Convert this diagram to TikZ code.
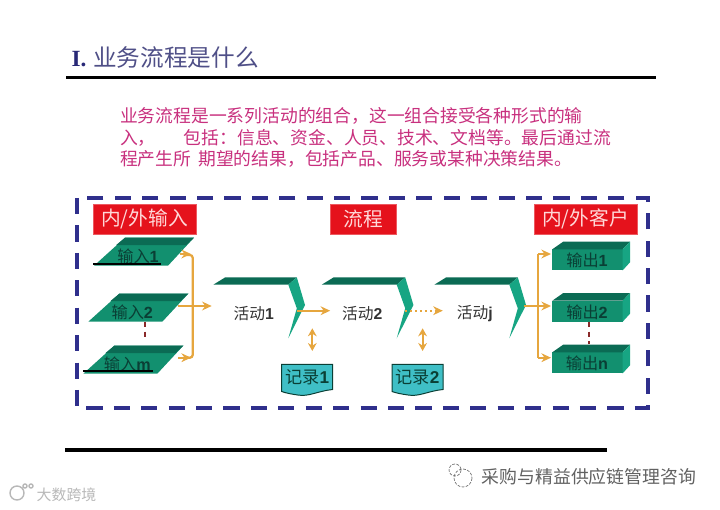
\documentclass[tikz,border=0pt]{standalone}
\usepackage{fontspec}
\setmainfont{Liberation Sans}
\newfontfamily\cjk{Noto Sans CJK SC}
\newfontfamily\titleserif{Liberation Serif}
\usetikzlibrary{arrows.meta, positioning, calc}
\definecolor{cnavy}{HTML}{2F2F8C}
\definecolor{cred}{HTML}{E5121C}
\definecolor{cpink}{HTML}{C8307E}
\definecolor{cgreen}{HTML}{12906F}
\definecolor{cdark}{HTML}{0B6B54}
\definecolor{clight}{HTML}{17A583}
\definecolor{corange}{HTML}{E6A63E}
\definecolor{cteal}{HTML}{3FBFC6}
\definecolor{cink}{HTML}{0A3F35}
\definecolor{cmaroon}{HTML}{8A2A2A}
\newcommand{\cn}[2]{{\cjk #1}\textbf{#2}}
\tikzset{
  every picture/.style={font=\rmfamily, line width=1pt},
  head/.style={fill=cred, draw=cred!70, line width=.5pt, text=red!15, font=\cjk\fontsize{14}{15}\selectfont, minimum height=30*.025cm, inner sep=0pt},
  lbl/.style={text=cink, font=\fontsize{11.5}{12}\selectfont, inner sep=1pt},
  reclbl/.style={text=cink, font=\fontsize{12.2}{13}\selectfont, inner sep=1pt},
  actlbl/.style={text=black!80, font=\fontsize{11.2}{12}\selectfont, inner sep=1pt},
  flow/.style={-{Stealth[length=2.4mm,width=2.2mm]}, draw=corange, line width=1.5pt},
  flowbar/.style={draw=corange, line width=1.6pt},
  dbl/.style={{Stealth[length=2mm,width=2.2mm]}-{Stealth[length=2mm,width=2.2mm]}, draw=corange, line width=1.3pt},
  link/.style={draw=cmaroon, line width=1.3pt, dash pattern=on 4pt off 3pt},
  rule/.style={draw=black, line width=2.3pt},
}

\begin{document}
\begin{tikzpicture}[x=.025cm, y=-.025cm]
  \useasboundingbox (0,0) rectangle (720,510);
  % title and text
  \node[anchor=west, inner sep=0pt, text=cnavy!85!black] (title) at (71,58) {{\titleserif\bfseries\fontsize{16.5}{18}\selectfont I.}\hspace*{2pt} {\cjk\fontsize{16.8}{18}\selectfont\color{cnavy!60!gray}业务流程是什么}};
  \draw[rule] (66,77.5) -- (656,77.5);
  \node[anchor=north west, inner sep=0pt, align=left, text=cpink, font=\cjk\fontsize{12.65}{15}\selectfont] (intro) at (119.5,107) {业务流程是一系列活动的组合，这一组合接受各种形式的输\\[.2pt]入，\hspace*{20pt}包括：信息、资金、人员、技术、文档等。最后通过流\\[.2pt]程产生所\hspace*{5pt}期望的结果，包括产品、服务或某种决策结果。};

  % dashed frame
  \draw[draw=cnavy, line width=2.2pt, dash pattern=on 11.5pt off 8pt] (77,198) rectangle (648,408);

  % headings
  \node[head, minimum width=103*.025cm] (hin) at (144.5,219) {内/外输入};
  \node[head, minimum width=66*.025cm] (hproc) at (363,219) {流程};
  \node[head, minimum width=103*.025cm] (hout) at (585.5,219) {内/外客户};

  % inputs
  \foreach \n/\x/\y/\t in {1/94/265.7/\cn{输入}{1}, 2/88.3/321.7/\cn{输入}{2}, 3/83.3/373.7/\cn{输入}{m}} {
    \fill[cgreen] (\x,\y) -- ++(74,0) -- ++(26,-28) -- ++(-69,0) -- cycle;
    \fill[cdark] (\x+31,\y-28) -- ++(69,0) -- ++(-8,7.5) -- ++(-70,0) -- cycle;
    \node[lbl] (in\n) at (\x+44,\y-9) {\t};
  }
  \draw[black, line width=1.4pt] (93.3,264) -- (160.7,264);
  \draw[black, line width=1.4pt] (83,371) -- (152.7,371);
  \draw[link] (145,321.7) -- (145,340);

  % bar after the inputs
  \coordinate (inA) at (180,254);
  \coordinate (inB) at (178.3,306);
  \coordinate (inC) at (178,357.7);
  \coordinate (barA) at (191,254);
  \coordinate (barC) at (191,357.7);
  \draw[flowbar, rounded corners=2pt] (186,255) -- (192.7,255) -- (192.7,357.7) -- (186,357.7);
  \draw[flow] (inA) -- (barA);
  \draw[flow] (inC) -- (barC);

  % activities
  \foreach \n/\x/\t in {1/213.3/\cn{活动}{1}, 2/321.7/\cn{活动}{2}, 3/434.3/\cn{活动}{j}} {
    \fill[cdark] (\x,284.7) -- (\x+12,277.3) -- (\x+83.5,277.3) -- (\x+75,284.7) -- cycle;
    \fill[clight] (\x+75,284.7) -- (\x+83.5,277.3) -- (\x+91.7,305) -- (\x+75,338.3) -- (\x+83.5,308.3) -- cycle;
    \node[actlbl] (act\n) at (\x+40.5,313.3) {\t};
    \coordinate (act\n in) at (\x+8.5,310.7);
    \coordinate (act\n out) at (\x+83.5,310.7);
  }
  \coordinate (act1in) at (211.7,306);
  \coordinate (act3exit) at (524,306);
  \draw[flow] (inB) -- (act1in);
  \draw[flow] (act1out) -- (act2in);
  \draw[flow, dotted] (act2out) -- (act3in);

  % records
  \foreach \n/\x/\t in {1/281.7/\cn{记录}{1}, 2/392/\cn{记录}{2}} {
    \draw[fill=cteal, draw=cink, line width=.7pt] (\x,364.3) -- ++(51,0) -- ++(0,25.2) .. controls (\x+36,391) and (\x+27,397) .. (\x+16,395) .. controls (\x+9,394) and (\x+4,393) .. (\x,391.5) -- cycle;
    \node[reclbl] (rec\n) at (\x+25.5,377.3) {\t};
    \coordinate (rec\n a) at (\x+30.6,351);
    \coordinate (rec\n b) at (\x+30.6,328.3);
    \draw[dbl] (rec\n a) -- (rec\n b);
  }

  % outputs
  \foreach \n/\y/\yy/\t in {1/249.3/254/\cn{输出}{1}, 2/300.7/306/\cn{输出}{2}, 3/352.3/357.7/\cn{输出}{n}} {
    \fill[cgreen] (552.3,\y) rectangle (622.7,\y+21);
    \fill[cdark] (552.3,\y) -- ++(11,-7.7) -- ++(66.7,0) -- (622.7,\y) -- cycle;
    \fill[clight] (622.7,\y) -- (630,\y-7.7) -- (630,\y+13) -- (622.7,\y+21) -- cycle;
    \node[lbl] (out\n) at (587,\y+11.4) {\t};
    \coordinate (out\n in) at (551,\yy);
  }
  \draw[link] (588.7,321.7) -- (588.7,344.3);
  \coordinate (outA) at (538.3,254);
  \coordinate (outC) at (538.3,357.7);
  \draw[flowbar] (outA) -- (outC);
  \draw[flow] (act3exit) -- (out2in);
  \draw[flow] (outA) -- (out1in);
  \draw[flow] (outC) -- (out3in);

  % bottom rule and marks
  \draw[rule] (65,450) -- (607,450);
  \node[anchor=west, inner sep=0pt, text=black!62, font=\cjk\fontsize{12.7}{15}\selectfont] (mark) at (481,477) {采购与精益供应链管理咨询};
  \draw[black!55, line width=.5pt, dash pattern=on 2pt off 1pt] (463,478) circle (9) (455,470) circle (6);
  \node[anchor=west, inner sep=0pt, text=black!28, font=\cjk\fontsize{10.6}{12}\selectfont] (brand) at (36,495) {大数跨境};
  \draw[black!28, line width=1pt] (17,493) circle (7) (25,486) circle (2) (31,486) circle (2);
\end{tikzpicture}
\end{document}
